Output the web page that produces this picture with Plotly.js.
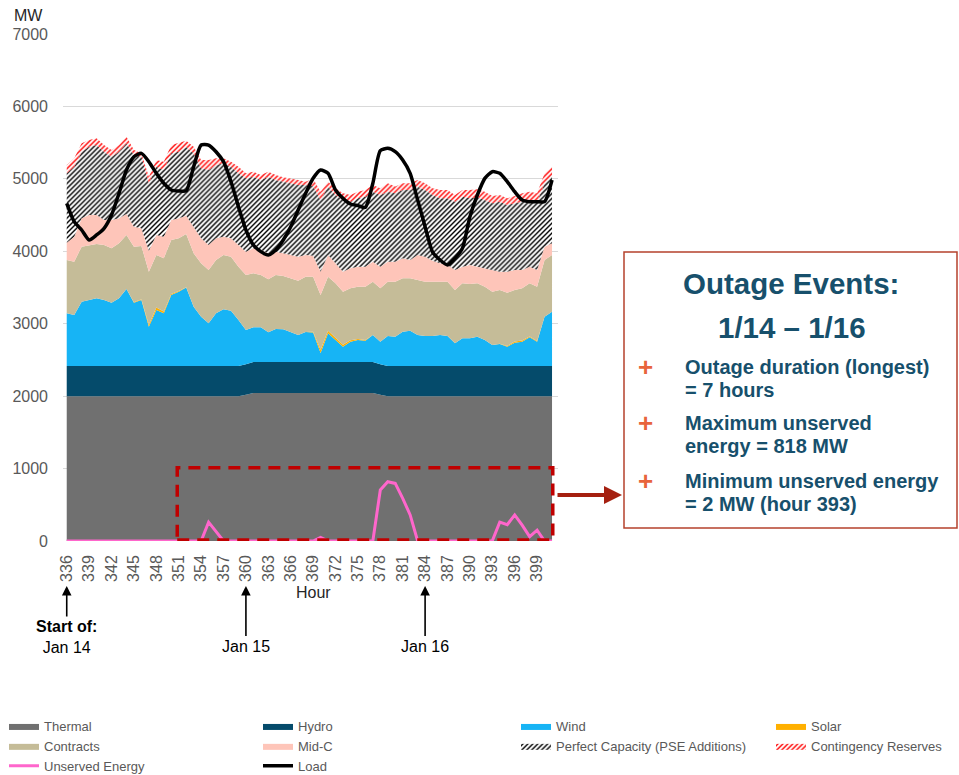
<!DOCTYPE html>
<html>
<head>
<meta charset="utf-8">
<script src="https://cdn.plot.ly/plotly-3.0.1.min.js"></script>
<style>
  html, body { margin: 0; padding: 0; background: #ffffff; }
  #chart { width: 959px; height: 775px; }
</style>
</head>
<body>
<div id="chart"></div>
<script>
// ---- Data (MW by hour) ----
const hours = [336,337,338,339,340,341,342,343,344,345,346,347,348,349,350,351,352,353,354,355,
  356,357,358,359,360,361,362,363,364,365,366,367,368,369,370,371,372,373,374,375,
  376,377,378,379,380,381,382,383,384,385,386,387,388,389,390,391,392,393,394,395,
  396,397,398,399,400,401];

const tickHours = [336,339,342,345,348,351,354,357,360,363,366,369,372,375,378,381,384,387,390,393,396,399];

const thermal = [2000,2000,2000,2000,2000,2000,2000,2000,2000,2000,2000,2000,2000,2000,2000,2000,2000,2000,2000,2000,
  2000,2000,2000,2000,2020,2045,2045,2045,2045,2045,2045,2045,2045,2045,2045,2045,2045,2045,2045,2045,
  2045,2045,2020,2000,2000,2000,2000,2000,2000,2000,2000,2000,2000,2000,2000,2000,2000,2000,2000,2000,
  2000,2000,2000,2000,2000,2000];

const hydro = [415,415,415,415,415,415,415,415,415,415,415,415,415,415,415,415,415,415,415,415,
  415,415,415,415,420,425,425,425,425,425,425,425,425,425,425,425,425,425,425,425,
  425,425,420,415,415,415,415,415,415,415,415,415,415,415,415,415,415,415,415,415,
  415,415,415,415,415,415];

const wind = [729,705,889,912,935,912,875,935,1064,875,
  912,544,775,729,981,1027,1085,820,682,591,
  729,784,765,636,473,480,480,411,457,452,
  415,374,415,410,126,397,305,213,282,305,
  296,374,312,415,406,475,489,429,415,415,
  429,415,314,383,383,406,360,291,305,268,
  323,337,397,337,682,751];

const solar = [0,0,0,0,0,0,0,0,0,5,
  10,25,35,25,15,8,3,0,0,0,
  0,0,0,0,0,0,0,0,0,0,
  0,0,0,10,45,35,30,25,20,15,
  8,0,0,0,0,0,0,0,0,0,
  0,0,0,0,0,0,0,0,5,10,
  15,15,12,8,0,0];

const contracts = [736,737,760,760,751,760,751,760,746,769,
  736,734,724,734,745,729,737,737,737,736,
  736,750,746,736,760,746,723,732,746,737,
  742,750,765,760,755,748,753,734,716,722,
  738,736,736,750,759,737,723,759,750,750,
  736,750,736,760,750,737,737,736,740,735,
  712,721,734,752,783,783];

const midC = [239,345,391,414,400,345,391,345,290,276,
  244,290,276,299,276,276,250,368,345,345,
  299,253,253,300,322,345,345,359,322,313,
  322,332,299,290,322,299,276,276,277,275,
  275,277,299,277,277,276,253,346,346,290,
  254,231,277,229,263,229,253,300,253,290,
  277,254,229,230,184,161];

const perfectCapacity = [957,966,920,943,966,943,874,920,976,989,
  989,931,943,920,920,920,950,1012,966,1035,
  1012,1012,989,989,1012,989,966,1058,989,989,
  990,989,966,960,990,944,943,990,920,944,
  967,966,990,966,943,943,966,944,920,907,
  897,920,943,967,920,958,943,920,967,921,
  920,943,921,943,875,943];

const contingency = [115,115,116,92,92,92,92,92,91,69,
  46,91,92,115,115,116,85,92,115,138,
  92,69,69,92,69,69,69,69,69,60,
  68,69,46,100,115,68,93,92,92,92,
  92,92,93,116,93,93,93,91,93,93,
  115,115,92,92,115,111,115,101,92,92,
  101,115,115,115,137,115];

const unserved = [0,0,0,0,0,0,0,0,0,0,
  0,0,0,0,0,0,0,0,0,260,
  130,0,0,0,0,0,0,0,0,0,
  0,0,0,0,50,0,0,0,0,0,
  0,0,705,818,795,590,360,0,0,0,
  0,0,0,0,0,0,0,2,260,225,
  360,220,60,150,0,0];

const load = [4662,4409,4294,4156,4225,4317,4501,4800,5122,5306,
  5352,5237,5076,4939,4846,4832,4835,5168,5467,5467,
  5375,5237,4961,4616,4294,4087,3995,3949,4018,4156,
  4340,4570,4800,5007,5122,5076,4846,4731,4653,4630,
  4607,4939,5389,5421,5375,5260,5076,4708,4340,3990,
  3880,3811,3903,4041,4478,4777,5007,5099,5076,4961,
  4823,4708,4685,4685,4685,4984];

// Outage window (hours) and level used for the dashed highlight box
const outageBox = {h0: 350.8, h1: 401.1, mw0: 15, mw1: 1010};

// ---- Traces ----
function area(name, y, color, legend, pattern) {
  const t = {
    type: 'scatter', mode: 'lines', x: hours, y: y, name: name,
    stackgroup: 'supply', line: {width: 0, color: color},
    fillcolor: color, legend: legend, hoverinfo: 'skip'
  };
  if (pattern) {
    t.fillpattern = {shape: '/', fgcolor: pattern, bgcolor: '#ffffff', size: 3.5, solidity: 0.4};
    t.fillcolor = '#ffffff';
  }
  return t;
}

const traces = [
  area('Thermal', thermal, '#707070', 'legend'),
  area('Hydro', hydro, '#054b6b', 'legend2'),
  area('Wind', wind, '#17b4f5', 'legend3'),
  area('Solar', solar, '#ffb000', 'legend4'),
  area('Contracts', contracts, '#c5bc98', 'legend'),
  area('Mid-C', midC, '#fec5b9', 'legend2'),
  area('Perfect Capacity (PSE Additions)', perfectCapacity, '#000000', 'legend3', '#000000'),
  area('Contingency Reserves', contingency, '#ff0000', 'legend4', '#ff0000'),
  {type: 'scatter', mode: 'lines', x: hours, y: unserved, name: 'Unserved Energy',
   line: {color: '#ff66cc', width: 3}, legend: 'legend', hoverinfo: 'skip'},
  {type: 'scatter', mode: 'lines', x: hours, y: load, name: 'Load',
   line: {color: '#000000', width: 3.5, shape: 'spline', smoothing: 0.6}, legend: 'legend2', hoverinfo: 'skip'}
];

// ---- Layout ----
const FONT = 'Liberation Sans, Arial, sans-serif';
const TXT = '#595959';
const BOX = '#17506c';
const pxX = px => (px - 63) / 495;
const pxY = py => (541 - py) / 507;

function legendAt(xpx) {
  return {x: pxX(xpx), xanchor: 'left', y: pxY(711), yanchor: 'top', orientation: 'v',
          traceorder: 'normal', bgcolor: 'rgba(0,0,0,0)', borderwidth: 0,
          font: {family: FONT, size: 13, color: TXT}};
}

function boxText(text, xpx, ypx, size, anchor) {
  return {text: text, xref: 'paper', yref: 'paper', x: pxX(xpx), y: pxY(ypx),
          xanchor: anchor || 'left', yanchor: 'middle', align: 'left', showarrow: false,
          font: {family: FONT, size: size, color: BOX}};
}

const annotations = [
  {text: 'MW', xref: 'paper', yref: 'paper', x: pxX(12), y: pxY(15), xanchor: 'left', yanchor: 'middle',
   showarrow: false, font: {family: FONT, size: 16, color: '#262626'}},
  {text: 'Hour', xref: 'paper', yref: 'paper', x: pxX(313), y: pxY(592), xanchor: 'center', yanchor: 'middle',
   showarrow: false, font: {family: FONT, size: 16, color: '#262626'}},
  {text: '<b>Start of:</b><br>Jan 14', xref: 'x', yref: 'paper', x: 336, y: pxY(586),
   ax: 0, ay: 51, showarrow: true, arrowhead: 2, arrowsize: 1.2, arrowwidth: 1.6, arrowcolor: '#000000',
   font: {family: FONT, size: 16, color: '#000000'}},
  {text: 'Jan 15', xref: 'x', yref: 'paper', x: 360, y: pxY(586),
   ax: 0, ay: 60, showarrow: true, arrowhead: 2, arrowsize: 1.2, arrowwidth: 1.6, arrowcolor: '#000000',
   font: {family: FONT, size: 16, color: '#000000'}},
  {text: 'Jan 16', xref: 'x', yref: 'paper', x: 384, y: pxY(586),
   ax: 0, ay: 60, showarrow: true, arrowhead: 2, arrowsize: 1.2, arrowwidth: 1.6, arrowcolor: '#000000',
   font: {family: FONT, size: 16, color: '#000000'}},
  // arrow from box to the text panel
  {text: '', xref: 'paper', yref: 'paper', x: pxX(622), y: pxY(495), ax: -66, ay: 0,
   showarrow: true, arrowhead: 2, arrowsize: 0.9, arrowwidth: 4, arrowcolor: '#a52010'},
  // text panel
  boxText('<b>Outage Events:</b>', 791, 283, 29.5, 'center'),
  boxText('<b>1/14 – 1/16</b>', 792, 327, 29.5, 'center'),
  {text: '<b>+</b>', xref: 'paper', yref: 'paper', x: pxX(645), y: pxY(367), xanchor: 'center', yanchor: 'middle',
   showarrow: false, font: {family: FONT, size: 26, color: '#e8643c'}},
  {text: '<b>+</b>', xref: 'paper', yref: 'paper', x: pxX(645), y: pxY(423), xanchor: 'center', yanchor: 'middle',
   showarrow: false, font: {family: FONT, size: 26, color: '#e8643c'}},
  {text: '<b>+</b>', xref: 'paper', yref: 'paper', x: pxX(645), y: pxY(481), xanchor: 'center', yanchor: 'middle',
   showarrow: false, font: {family: FONT, size: 26, color: '#e8643c'}},
  boxText('<b>Outage duration (longest)</b>', 683, 367, 20),
  boxText('<b>= 7 hours</b>', 683, 390, 20),
  boxText('<b>Maximum unserved</b>', 683, 423, 20),
  boxText('<b>energy = 818 MW</b>', 683, 446, 20),
  boxText('<b>Minimum unserved energy</b>', 683, 481, 20),
  boxText('<b>= 2 MW (hour 393)</b>', 683, 504, 20)
];

const shapes = [
  {type: 'rect', xref: 'x', yref: 'y', x0: outageBox.h0, x1: outageBox.h1, y0: outageBox.mw0, y1: outageBox.mw1,
   line: {color: '#c00000', width: 3.5, dash: '12px,8px'}, fillcolor: 'rgba(0,0,0,0)'},
  {type: 'rect', xref: 'paper', yref: 'paper', x0: pxX(624), x1: pxX(957), y0: pxY(528), y1: pxY(252),
   line: {color: '#b5412c', width: 1.5}, fillcolor: 'rgba(0,0,0,0)'}
];

const layout = {
  width: 959, height: 775,
  margin: {l: 63, r: 401, t: 34, b: 234, autoexpand: false},
  paper_bgcolor: '#ffffff', plot_bgcolor: '#ffffff',
  font: {family: FONT, color: TXT},
  xaxis: {
    range: [335.5, 401.8], tickmode: 'array', tickvals: tickHours, ticktext: tickHours.map(String),
    tickangle: -90, showgrid: false, zeroline: false, showline: false, ticks: '',
    tickfont: {family: FONT, size: 16, color: TXT}, ticklabelstandoff: 10
  },
  yaxis: {
    range: [0, 7000], dtick: 1000, tick0: 0, showgrid: true, gridcolor: '#d9d9d9', gridwidth: 1,
    zeroline: false, showline: false, ticks: '', tickfont: {family: FONT, size: 16, color: TXT},
    ticklabelstandoff: 14
  },
  legend: legendAt(4),
  legend2: legendAt(258),
  legend3: legendAt(516),
  legend4: legendAt(771),
  annotations: annotations,
  shapes: shapes,
  hovermode: false
};

Plotly.newPlot('chart', traces, layout, {staticPlot: true, displayModeBar: false});
</script>
</body>
</html>
